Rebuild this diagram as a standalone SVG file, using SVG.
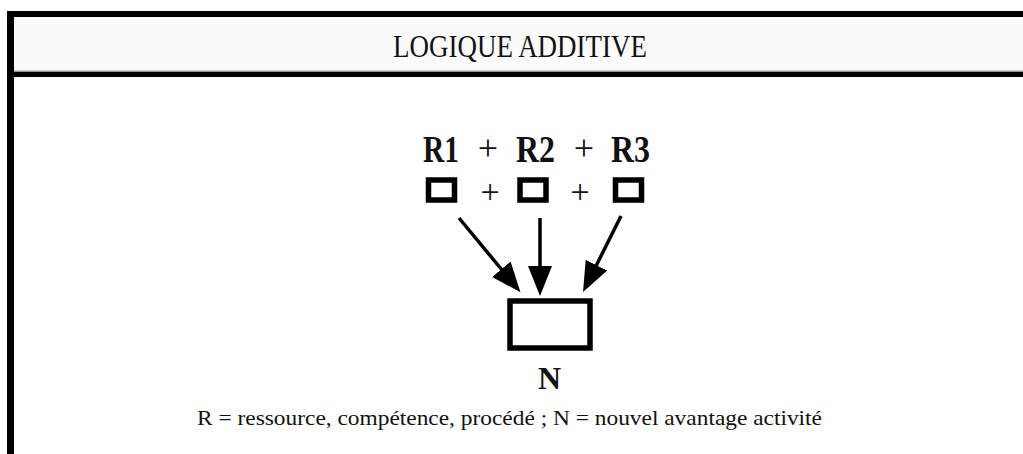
<svg xmlns="http://www.w3.org/2000/svg" width="1023" height="454" viewBox="0 0 1023 454">
  <style>
    .serif { font-family: "Liberation Serif", "Times New Roman", serif; fill: #111; }
    .bold { font-weight: bold; }
    .box { fill: #fff; stroke: #000; stroke-width: 5.5; }
    .conn { stroke: #000; stroke-width: 3.5; fill: none; }
  </style>
  <defs>
    <marker id="head" markerUnits="userSpaceOnUse" markerWidth="32" markerHeight="26" refX="1" refY="12" orient="auto">
      <path d="M0,0 L30,12 L0,24 z" fill="#000"/>
    </marker>
  </defs>
  <rect x="0" y="0" width="1023" height="454" fill="#fff"/>
  <g id="frame">
    <rect x="14" y="17" width="1009" height="55" fill="#fbfbfb"/>
    <rect x="7" y="11" width="1016" height="6" fill="#000"/>
    <rect x="7" y="11" width="7" height="443" fill="#000"/>
    <rect x="14" y="72" width="1009" height="5" fill="#000"/>
    <rect x="14" y="70.5" width="1009" height="1.5" fill="#999"/>
  </g>
  <g id="title">
    <text class="serif" x="393" y="57" font-size="31" textLength="254" lengthAdjust="spacingAndGlyphs">LOGIQUE ADDITIVE</text>
  </g>
  <g id="formula">
    <text class="serif bold" x="423" y="162" font-size="37" textLength="36" lengthAdjust="spacingAndGlyphs">R1</text>
    <text class="serif" x="488" y="160" font-size="36" text-anchor="middle">+</text>
    <text class="serif bold" x="516" y="162" font-size="37" textLength="39" lengthAdjust="spacingAndGlyphs">R2</text>
    <text class="serif" x="584" y="160" font-size="36" text-anchor="middle">+</text>
    <text class="serif bold" x="611" y="162" font-size="37" textLength="39" lengthAdjust="spacingAndGlyphs">R3</text>
  </g>
  <g id="R1">
    <rect class="box" x="428.5" y="180" width="26" height="20"/>
  </g>
  <g id="R2">
    <rect class="box" x="520" y="180" width="26" height="20"/>
  </g>
  <g id="R3">
    <rect class="box" x="615.5" y="180" width="26" height="20"/>
  </g>
  <g id="plus-row">
    <text class="serif" x="490" y="203" font-size="34" text-anchor="middle">+</text>
    <text class="serif" x="580" y="203" font-size="34" text-anchor="middle">+</text>
  </g>
  <g id="N">
    <rect class="box" x="510" y="301" width="80" height="47"/>
    <text class="serif bold" x="549.5" y="389" font-size="32" text-anchor="middle">N</text>
  </g>
  <g id="connectors">
    <line class="conn" x1="459" y1="218" x2="502" y2="270" marker-end="url(#head)"/>
    <line class="conn" x1="540" y1="218" x2="540" y2="267" marker-end="url(#head)"/>
    <line class="conn" x1="621" y1="216" x2="596" y2="266" marker-end="url(#head)"/>
  </g>
  <g id="caption">
    <text class="serif" x="197" y="425" font-size="21" textLength="625" lengthAdjust="spacingAndGlyphs">R = ressource, compétence, procédé ; N = nouvel avantage activité</text>
  </g>
</svg>
